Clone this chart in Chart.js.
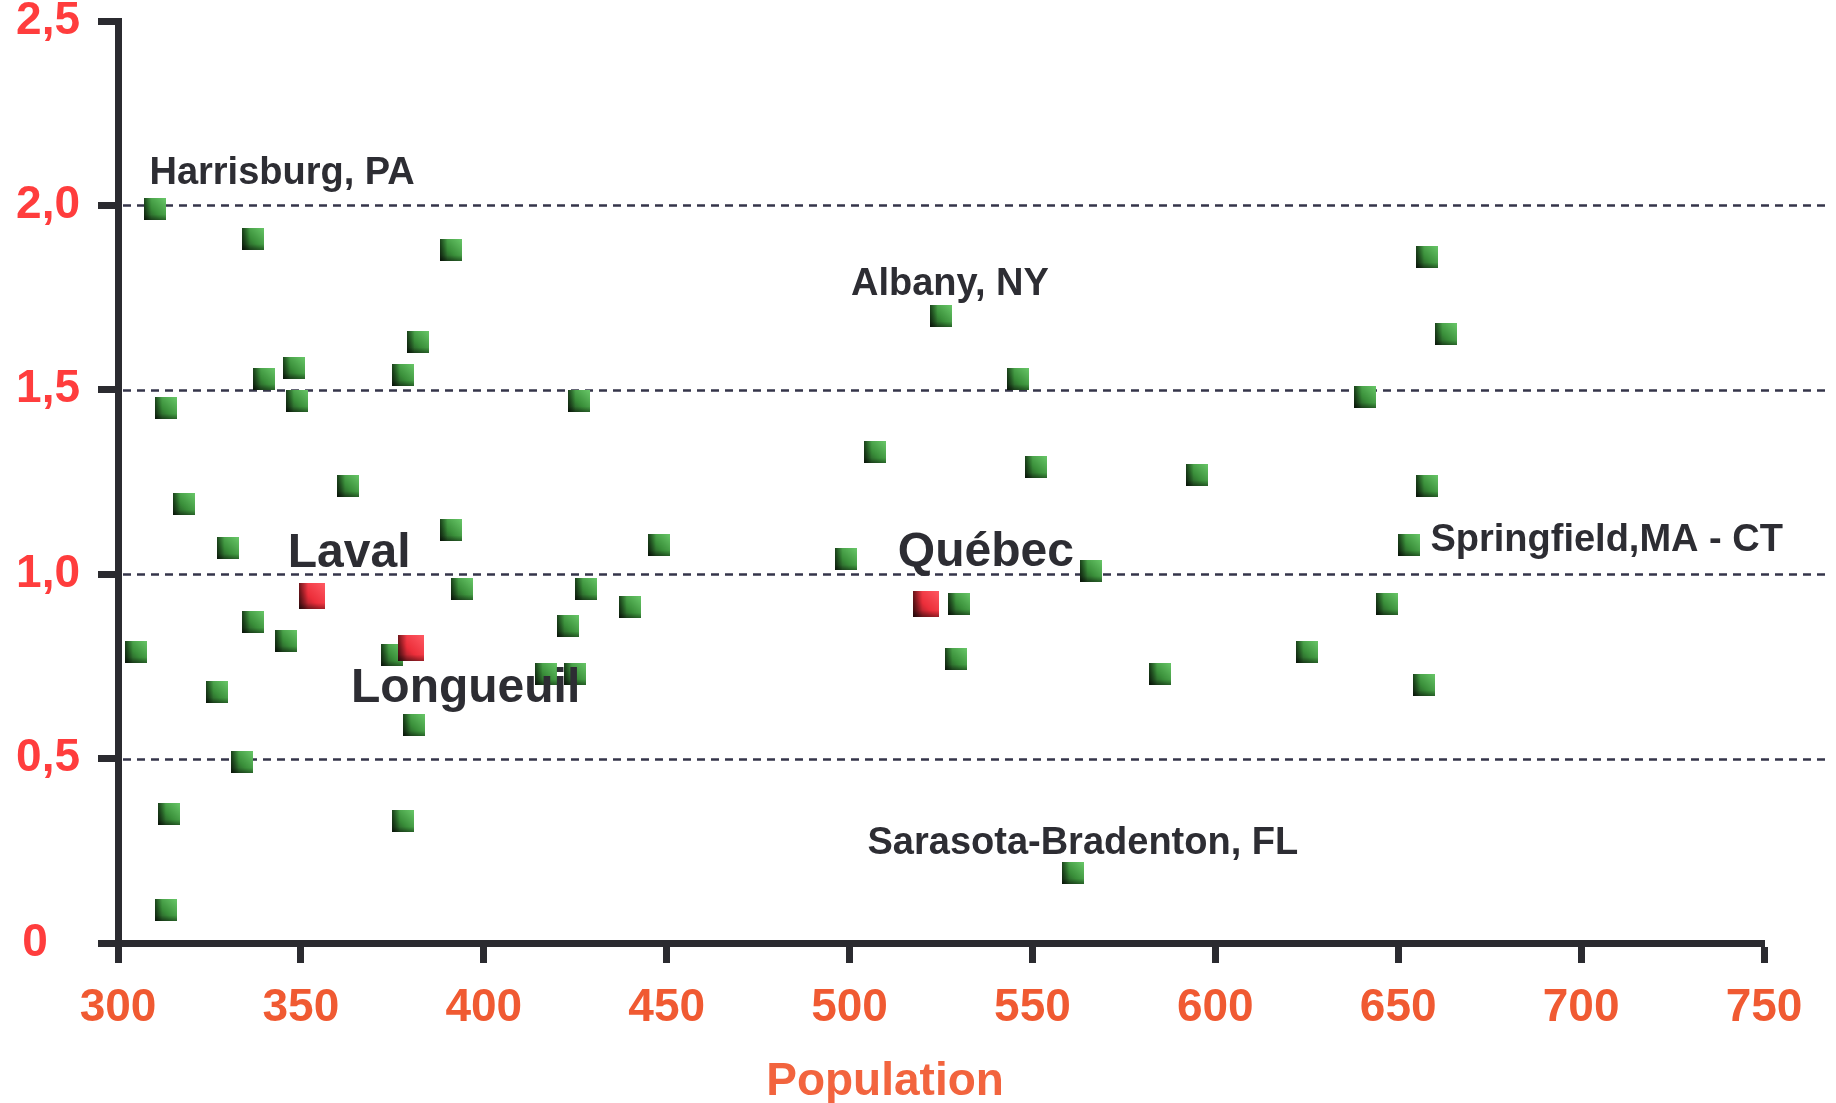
<!DOCTYPE html>
<html>
<head>
<meta charset="utf-8">
<script src="https://cdn.jsdelivr.net/npm/chart.js@4.4.1/dist/chart.umd.min.js"></script>
<style>
html,body{margin:0;padding:0;background:#ffffff;}
#wrap{width:1836px;height:1103px;position:relative;}
canvas{display:block;}
</style>
</head>
<body>
<div id="wrap"><canvas id="c" width="1836" height="1103"></canvas></div>
<script>
// ---- data ----
const greenPopulation = [310, 337, 391, 658, 525, 663, 382, 348, 340, 378, 546, 313, 349, 426, 641,
  507, 551, 595, 363, 658, 318, 391, 330, 448, 653, 499, 566, 394, 428, 440, 530, 647, 337, 346,
  423, 305, 375, 529, 625, 417, 425, 585, 657, 327, 381, 334, 314, 378, 561, 313];
const greenRatio = [1.99, 1.91, 1.88, 1.86, 1.70, 1.65, 1.63, 1.56, 1.53, 1.54, 1.53, 1.45, 1.47, 1.47, 1.48,
  1.33, 1.29, 1.27, 1.24, 1.24, 1.19, 1.12, 1.07, 1.08, 1.08, 1.04, 1.01, 0.96, 0.96, 0.91, 0.92, 0.92, 0.87, 0.82,
  0.86, 0.79, 0.78, 0.77, 0.79, 0.73, 0.73, 0.73, 0.70, 0.68, 0.59, 0.49, 0.35, 0.33, 0.19, 0.09];
const redPopulation = [353, 380, 521];
const redRatio = [0.94, 0.80, 0.92];

const xTickValues = [300, 350, 400, 450, 500, 550, 600, 650, 700, 750];
const xTickLabels = ['300', '350', '400', '450', '500', '550', '600', '650', '700', '750'];
const yTickValues = [0, 0.5, 1.0, 1.5, 2.0, 2.5];
const yTickLabels = ['0', '0,5', '1,0', '1,5', '2,0', '2,5'];
const xAxisTitle = 'Population';

// annotation texts and their anchor (left edge, vertical middle) in data units
const labelTexts = ['Harrisburg, PA', 'Albany, NY', 'Laval', 'Québec', 'Longueuil', 'Springfield,MA - CT', 'Sarasota-Bradenton, FL'];
const labelPopulation = [308.6, 500.4, 346.4, 513.2, 363.7, 658.8, 504.9];
const labelRatio = [2.087, 1.785, 1.055, 1.058, 0.689, 1.090, 0.270];
const bigLabels = new Set(['Laval', 'Québec', 'Longueuil']);

// ---- styling ----
const AXIS = '#2b2b30';
const FONT = '"Liberation Sans", Arial, sans-serif';

function makeSquare(size, dark, mid, light) {
  const cv = document.createElement('canvas');
  cv.width = size; cv.height = size;
  const g = cv.getContext('2d');
  const grad = g.createLinearGradient(0, size, size, 0);
  grad.addColorStop(0, dark);
  grad.addColorStop(0.45, mid);
  grad.addColorStop(1, light);
  g.fillStyle = grad;
  g.fillRect(0, 0, size, size);
  const lg = g.createLinearGradient(0, 0, size * 0.35, 0);
  lg.addColorStop(0, 'rgba(0,0,0,0.55)');
  lg.addColorStop(1, 'rgba(0,0,0,0)');
  g.fillStyle = lg;
  g.fillRect(0, 0, size, size);
  const bg = g.createLinearGradient(0, size, 0, size * 0.75);
  bg.addColorStop(0, 'rgba(0,0,0,0.35)');
  bg.addColorStop(1, 'rgba(0,0,0,0)');
  g.fillStyle = bg;
  g.fillRect(0, 0, size, size);
  return cv;
}
const greenSquare = makeSquare(22, '#1d3d1d', '#3a8f3a', '#69c869');
const redSquare = makeSquare(26, '#6e1a20', '#ec2e3a', '#ff5a63');

const overlayPlugin = {
  id: 'overlay',
  beforeDatasetsDraw(chart) {
    const {ctx, chartArea, scales: {y}} = chart;
    ctx.save();
    ctx.strokeStyle = '#35354a';
    ctx.lineWidth = 2.5;
    ctx.setLineDash([8, 6]);
    yTickValues.forEach(v => {
      if (v <= 0 || v >= 2.5) return;
      const py = Math.round(y.getPixelForValue(v)) + 0.5;
      ctx.beginPath();
      ctx.moveTo(chartArea.left + 5, py);
      ctx.lineTo(chart.width - 6, py);
      ctx.stroke();
    });
    ctx.restore();
  },
  afterDatasetsDraw(chart) {
    const {ctx, chartArea, scales: {x, y}} = chart;
    ctx.save();
    ctx.fillStyle = '#2d2d33';
    ctx.textAlign = 'left';
    ctx.textBaseline = 'middle';
    labelTexts.forEach((t, i) => {
      const size = bigLabels.has(t) ? 48 : 38;
      ctx.font = 'bold ' + size + 'px ' + FONT;
      ctx.fillText(t, x.getPixelForValue(labelPopulation[i]), y.getPixelForValue(labelRatio[i]));
    });
    ctx.fillStyle = '#f2643e';
    ctx.textAlign = 'center';
    ctx.font = 'bold 46px ' + FONT;
    ctx.fillText(xAxisTitle, x.getPixelForValue(509.7), chartArea.bottom + 139);
    ctx.restore();
  }
};

new Chart(document.getElementById('c'), {
  type: 'scatter',
  data: {
    datasets: [
      {
        label: 'Québec',
        data: redPopulation.map((v, i) => ({x: v, y: redRatio[i]})),
        pointStyle: redSquare,
        pointRadius: 13,
        order: 0
      },
      {
        label: 'Villes',
        data: greenPopulation.map((v, i) => ({x: v, y: greenRatio[i]})),
        pointStyle: greenSquare,
        pointRadius: 11,
        order: 1
      }
    ]
  },
  options: {
    responsive: false,
    animation: false,
    devicePixelRatio: 1,
    layout: {padding: {top: 21, right: 72, left: 0, bottom: 0}},
    plugins: {legend: {display: false}, tooltip: {enabled: false}},
    scales: {
      x: {
        type: 'linear',
        min: 300, max: 750,
        afterBuildTicks: s => { s.ticks = xTickValues.map(v => ({value: v})); },
        afterFit: s => { s.height = 160; s.paddingLeft = 0; s.paddingRight = 0; },
        ticks: {
          callback: v => xTickLabels[xTickValues.indexOf(v)],
          color: '#f05a32',
          font: {family: FONT, size: 46, weight: 'bold', lineHeight: 1},
          padding: 22,
          maxRotation: 0,
          autoSkip: false
        },
        grid: {drawOnChartArea: false, drawTicks: true, tickLength: 20, tickWidth: 7, tickColor: AXIS},
        border: {display: true, width: 7, color: AXIS}
      },
      y: {
        type: 'linear',
        min: 0, max: 2.5,
        afterBuildTicks: s => { s.ticks = yTickValues.map(v => ({value: v})); },
        afterFit: s => { s.width = 118; s.paddingTop = 0; s.paddingBottom = 0; },
        ticks: {
          // the lone "0" sits further left in the original, so it keeps a trailing gap
          callback: v => { const t = yTickLabels[yTickValues.indexOf(v)]; return t.length === 1 ? t + '\u2002\u2009' : t; },
          color: '#ff3d3d',
          font: {family: FONT, size: 46, weight: 'bold', lineHeight: 0.8},
          padding: 18,
          autoSkip: false
        },
        grid: {drawOnChartArea: false, drawTicks: true, tickLength: 20, tickWidth: 7, tickColor: AXIS},
        border: {display: true, width: 7, color: AXIS}
      }
    }
  },
  plugins: [overlayPlugin]
});
</script>
</body>
</html>
